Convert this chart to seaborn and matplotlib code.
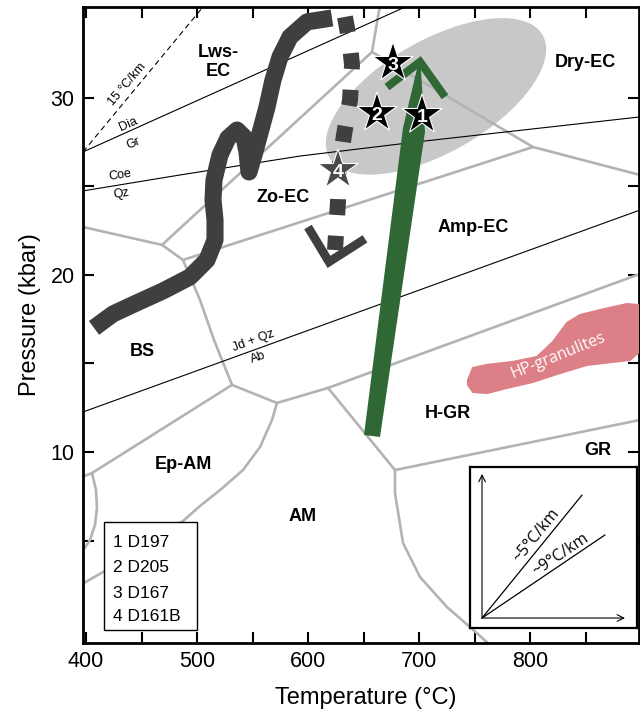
import matplotlib
matplotlib.use("Agg")
import numpy as np
import pandas as pd
import matplotlib.pyplot as plt
import seaborn as sns
from matplotlib.patches import Polygon, Rectangle

# ---------------- axis ranges and ticks ----------------
T_LIM = (397.3, 897.7)
P_LIM = (-0.79, 35.14)
T_MAJOR = [400, 500, 600, 700, 800]
T_MINOR = [450, 550, 650, 750, 850]
P_MAJOR = [10, 20, 30]
P_MINOR = [5, 15, 25]

# ---------------- facies boundaries (T degC, P kbar) ----------------
bd_bs_lws = [(397.3, 22.71), (468.4, 21.70)]
bd_lws_zo = [(468.4, 21.70), (657.4, 32.60)]
bd_lws_zo_link = [(468.4, 21.70), (487.3, 20.85)]
bd_zo_amp = [(487.3, 20.85), (802.3, 27.23)]
bd_lws_dry = [(657.4, 32.60), (664.6, 35.26)]
bd_zo_dry = [(657.4, 32.60), (802.3, 27.23)]
bd_amp_dry = [(802.3, 27.23), (898.6, 25.65)]
bd_bs_amp = [(487.3, 20.85), (502.6, 18.59), (515.2, 16.33), (524.2, 14.92), (531.4, 13.79)]
bd_bs_epam = [(531.4, 13.79), (405.4, 8.81)]
bd_epam_west = [(405.4, 8.81), (396.4, 8.59)]
bd_epam_am_west = [(405.4, 8.81), (409.0, 7.85), (409.9, 6.84), (408.1, 5.88),
                   (403.6, 5.03), (396.4, 4.35)]
bd_epam_amp = [(531.4, 13.79), (571.9, 12.77)]
bd_am_amp = [(571.9, 12.77), (617.8, 13.62)]
bd_amp_hgr = [(617.8, 13.62), (898.6, 20.06)]
bd_am_hgr = [(617.8, 13.62), (678.1, 8.98)]
bd_hgr_gr = [(678.1, 8.98), (898.6, 11.81)]
bd_am_gr = [(678.1, 8.98), (678.1, 7.68), (685.3, 4.86), (700.6, 2.94),
            (724.9, 1.24), (745.6, 0.11), (763.6, -0.90)]
bd_epam_am = [(571.9, 12.77), (567.4, 11.81), (556.6, 10.28), (541.3, 8.98),
              (520.6, 7.85), (502.6, 6.95), (487.3, 6.10), (457.6, 4.92),
              (435.1, 4.01), (417.1, 3.28), (396.4, 2.54)]

# ---------------- reaction curves ----------------
rx_dia_gr = [(397.3, 26.95), (700.0, 35.50)]
rx_coe_qz = [(397.3, 24.75), (484.6, 25.65), (592.6, 26.72), (697.9, 27.52), (898.6, 28.93)]
rx_jd_ab = [(397.3, 12.26), (898.6, 23.67)]
geotherm_15 = [(397.3, 26.95), (510.0, 35.50)]

# ---------------- P-T paths ----------------
path_cold = [(407.2, 17.01), (424.3, 17.80), (439.6, 18.25), (469.3, 19.10), (493.6, 19.89),
             (508.9, 20.85), (516.1, 21.98), (516.1, 23.11), (514.3, 24.24), (515.2, 25.37),
             (520.6, 26.78), (527.8, 27.74), (535.9, 28.19), (542.2, 27.80), (544.9, 26.95),
             (546.7, 25.82), (551.2, 26.78), (556.6, 28.02), (562.9, 29.49), (568.3, 31.02),
             (574.6, 32.32), (583.6, 33.45), (598.9, 34.30), (621.4, 34.52)]
path_retro = [(633.1, 34.58), (637.6, 33.00), (639.4, 31.87), (637.6, 29.89),
              (632.2, 27.91), (627.7, 25.93), (626.8, 24.13), (624.1, 21.41)]
path_retro_head = [(599.8, 22.71), (618.7, 20.74), (651.1, 22.04)]
path_hot_shaft = [(650.2, 10.96), (664.6, 10.85), (705.1, 28.08), (700.6, 32.37), (685.3, 28.31)]
path_hot_head = [(670.9, 30.62), (700.6, 32.04), (723.1, 30.06)]

# ---------------- fields ----------------
field_center = (715.0, 30.09)
field_axis_major = (95.9, 3.47)
field_axis_minor = (25.2, -2.74)
hp_granulites = [(743.8, 14.07), (748.3, 14.75), (760.9, 14.92), (784.3, 15.09), (805.9, 15.37),
                 (820.3, 16.22), (832.9, 17.29), (844.6, 17.74), (862.6, 18.02), (886.9, 18.36),
                 (896.8, 18.31), (899.5, 17.63), (899.5, 15.76), (889.6, 15.20), (874.3, 15.09),
                 (850.9, 14.92), (826.6, 14.46), (802.3, 13.96), (778.9, 13.62), (760.9, 13.33),
                 (748.3, 13.39), (743.8, 13.79)]

# ---------------- samples ----------------
sample_no = ["1", "2", "3", "4"]
sample_name = ["D197", "D205", "D167", "D161B"]
sample_T = [702.4, 661.9, 676.3, 626.8]
sample_P = [29.04, 29.15, 31.98, 25.93]

# ---------------- facies labels ----------------
facies_names = ["Lws-\nEC", "Zo-EC", "Dry-EC", "Amp-EC", "BS", "Ep-AM", "AM", "H-GR", "GR"]
facies_T = [518.8, 577.3, 849.1, 748.3, 450.4, 487.3, 595.3, 725.8, 860.8]
facies_P = [32.04, 24.35, 31.98, 22.66, 15.65, 9.27, 6.33, 12.20, 10.11]

GRAY_LINE = "#b3b3b5"
DARK = "#3f3f3f"
GREEN = "#2f6834"
PINK = "#dc7f86"

sns.set_theme(style="ticks")
plt.rcParams["font.family"] = ["Liberation Sans", "DejaVu Sans"]
plt.rcParams.update({
    "axes.linewidth": 2.0,
    "text.color": "black",
    "axes.labelcolor": "black",
    "axes.edgecolor": "black",
    "xtick.color": "black",
    "ytick.color": "black",
})


def to_frame(segments):
    rows = []
    for k, seg in enumerate(segments):
        for t, p in seg:
            rows.append({"T": t, "P": p, "seg": k})
    return pd.DataFrame(rows)


fig = plt.figure(figsize=(6.4, 7.14), dpi=100)
ax = fig.add_axes([83 / 640, 71 / 714, 556 / 640, 636 / 714])

# grey field of peak conditions
tt = np.linspace(0, 2 * np.pi, 240)
ex = field_center[0] + np.cos(tt) * field_axis_major[0] + np.sin(tt) * field_axis_minor[0]
ey = field_center[1] + np.cos(tt) * field_axis_major[1] + np.sin(tt) * field_axis_minor[1]
ax.fill(ex, ey, color="#c8c8c8", lw=0, zorder=1)

# facies boundaries
boundaries = [bd_bs_lws, bd_lws_zo, bd_lws_zo_link, bd_zo_amp, bd_lws_dry, bd_zo_dry,
              bd_amp_dry, bd_bs_amp, bd_bs_epam, bd_epam_west, bd_epam_am_west,
              bd_epam_amp, bd_am_amp, bd_amp_hgr, bd_am_hgr, bd_hgr_gr, bd_am_gr, bd_epam_am]
sns.lineplot(data=to_frame(boundaries), x="T", y="P", units="seg", estimator=None,
             sort=False, color=GRAY_LINE, linewidth=1.9, legend=False, ax=ax, zorder=2)

# reaction curves
sns.lineplot(data=to_frame([rx_dia_gr, rx_coe_qz, rx_jd_ab]), x="T", y="P", units="seg",
             estimator=None, sort=False, color="black", linewidth=0.8, legend=False,
             ax=ax, zorder=2.5)
g15 = to_frame([geotherm_15])
ax.plot(g15["T"], g15["P"], color="black", lw=0.8, ls=(0, (5, 3.5)), zorder=2.5)

# HP granulite field
ax.add_patch(Polygon(hp_granulites, closed=True, facecolor=PINK, edgecolor=PINK,
                     lw=1.5, joinstyle="round", zorder=3))
ax.text(824.8, 15.42, "HP-granulites", color="white", fontsize=11.5, family="Open Sans",
        rotation=22, ha="center", va="center", zorder=3.5)

# cold P-T path
pc = to_frame([path_cold])
sns.lineplot(data=pc, x="T", y="P", estimator=None, sort=False, color=DARK,
             linewidth=12.3, solid_capstyle="butt", solid_joinstyle="round",
             legend=False, ax=ax, zorder=4)

# retrograde dashed path with open head
pr = to_frame([path_retro])
ax.plot(pr["T"], pr["P"], color=DARK, lw=11.5, ls=(0, (1.0, 1.3)),
        dash_capstyle="butt", dash_joinstyle="round", zorder=4)
ph = to_frame([path_retro_head])
ax.plot(ph["T"], ph["P"], color=DARK, lw=6.3, solid_capstyle="butt",
        solid_joinstyle="miter", zorder=4)

# hot P-T path (green arrow)
ax.add_patch(Polygon(path_hot_shaft, closed=True, facecolor=GREEN, edgecolor="none", zorder=5))
hh = to_frame([path_hot_head])
ax.plot(hh["T"], hh["P"], color=GREEN, lw=5.8, solid_capstyle="butt",
        solid_joinstyle="miter", zorder=5)

# samples
samples = pd.DataFrame({"T": sample_T, "P": sample_P, "no": sample_no})
sns.scatterplot(data=samples, x="T", y="P", hue="no",
                palette={"1": "black", "2": "black", "3": "black", "4": "#4a4a4a"},
                marker="*", s=920, edgecolor="white", linewidth=0.8, legend=False,
                ax=ax, zorder=8)
for t, p, n in zip(sample_T, sample_P, sample_no):
    ax.text(t, p - 0.12, n, color="white", fontsize=14, fontweight="bold",
            ha="center", va="center", zorder=9)

# facies names
for name, t, p in zip(facies_names, facies_T, facies_P):
    ax.text(t, p, name, fontsize=13, fontweight="bold", ha="center", va="center",
            linespacing=1.15, zorder=3)

# reaction labels
small = dict(fontsize=9, ha="center", va="center", zorder=3)
ax.text(437.8, 28.48, "Dia", rotation=24, **small)
ax.text(442.3, 27.46, "Gr", rotation=24, **small)
ax.text(430.6, 25.65, "Coe", rotation=9, **small)
ax.text(431.5, 24.58, "Qz", rotation=9, **small)
ax.text(550.3, 16.27, "Jd + Qz", rotation=20, **small)
ax.text(554.8, 15.31, "Ab", rotation=20, **small)
ax.text(437.0, 30.75, "15 °C/km", rotation=50, **small)

# sample key
ax.add_patch(Rectangle((416.2, -0.06), 83.7, 6.11, facecolor="white", edgecolor="black",
                       lw=1.0, zorder=6))
key_P = [4.86, 3.45, 2.03, 0.73]
for n, name, p in zip(sample_no, sample_name, key_P):
    ax.text(424.3, p, f"{n} {name}", fontsize=12.5, ha="left", va="center", zorder=7)

# axes styling
ax.set_xlim(*T_LIM)
ax.set_ylim(*P_LIM)
ax.set_xticks(T_MAJOR)
ax.set_xticks(T_MINOR, minor=True)
ax.set_yticks(P_MAJOR)
ax.set_yticks(P_MINOR, minor=True)
ax.tick_params(which="both", direction="in", length=8, width=1.5, top=True, right=True,
               labelsize=15.5, pad=6, colors="black")
for s in ax.spines.values():
    s.set_linewidth(2.0)
    s.set_color("black")
ax.set_xlabel("Temperature (°C)", fontsize=17, color="black")
ax.set_ylabel("Pressure (kbar)", fontsize=17, color="black")
ax.xaxis.set_label_coords(0.509, -0.069)
ax.yaxis.set_label_coords(-0.075, 0.516)

# geothermal gradient sketch
ins = fig.add_axes([470 / 640, 86 / 714, 167 / 640, 161 / 714])
ins.set_xlim(0, 1)
ins.set_ylim(0, 1)
ins.set_xticks([])
ins.set_yticks([])
ins.set_facecolor("white")
for s in ins.spines.values():
    s.set_linewidth(1.6)
    s.set_color("black")
arrow = dict(arrowstyle="->", lw=0.8, color="black", shrinkA=0, shrinkB=0)
ins.annotate("", xy=(0.072, 0.957), xytext=(0.072, 0.062), arrowprops=arrow)
ins.annotate("", xy=(0.928, 0.062), xytext=(0.072, 0.062), arrowprops=arrow)
ins.plot([0.072, 0.671], [0.062, 0.826], color="black", lw=0.9)
ins.plot([0.072, 0.808], [0.062, 0.578], color="black", lw=0.9)
ins.text(0.395, 0.572, "~5°C/km", rotation=51, fontsize=11.5, family="Open Sans",
         ha="center", va="center")
ins.text(0.540, 0.455, "~9°C/km", rotation=34, fontsize=11.5, family="Open Sans",
         ha="center", va="center")

fig.savefig("out.png", dpi=100)
